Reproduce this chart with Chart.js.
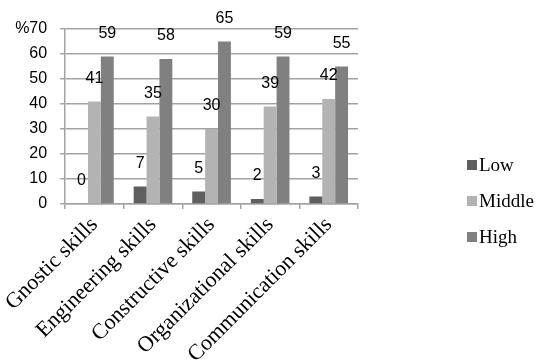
<!DOCTYPE html>
<html>
<head>
<meta charset="utf-8">
<script src="https://cdn.jsdelivr.net/npm/chart.js@4"></script>
<style>
  html, body { margin: 0; padding: 0; background: #fff; }
  #wrap { position: relative; width: 536px; height: 363px; }
  canvas { position: absolute; left: 0; top: 0; }
  #legend { position: absolute; left: 467px; top: 154px; font-family: "Liberation Serif", "Times New Roman", serif; font-size: 19px; color: #000; }
  #legend div { display: flex; align-items: center; height: 22px; margin-bottom: 14px; }
  #legend span.box { display: inline-block; width: 10px; height: 10px; margin-right: 2px; }
</style>
</head>
<body>
<div id="wrap">
  <canvas id="c" width="536" height="363"></canvas>
  <div id="legend"></div>
</div>
<script>
// Skill categories and percentage of respondents per level
const categories = ["Gnostic skills", "Engineering skills", "Constructive skills", "Organizational skills", "Communication skills"];
const lowValues = [0, 7, 5, 2, 3];
const middleValues = [41, 35, 30, 39, 42];
const highValues = [59, 58, 65, 59, 55];
const seriesNames = ["Low", "Middle", "High"];
const seriesColors = ["#5f5f5f", "#b3b3b3", "#808080"];
const yTicks = [0, 10, 20, 30, 40, 50, 60, 70];

const gridColor = "#a3a3a3";

// Value labels drawn above each bar
const valueLabels = {
  id: "valueLabels",
  afterDatasetsDraw(chart) {
    const ctx = chart.ctx;
    ctx.save();
    ctx.font = "16px 'Liberation Sans', Arial, sans-serif";
    ctx.fillStyle = "#000";
    ctx.textAlign = "center";
    ctx.textBaseline = "middle";
    chart.data.datasets.forEach((ds, i) => {
      chart.getDatasetMeta(i).data.forEach((bar, j) => {
        ctx.fillText(String(ds.data[j]), bar.x, bar.y - 23);
      });
    });
    ctx.restore();
  }
};

const legendEl = document.getElementById("legend");
seriesNames.forEach((name, i) => {
  const row = document.createElement("div");
  const box = document.createElement("span");
  box.className = "box";
  box.style.background = seriesColors[i];
  row.appendChild(box);
  row.appendChild(document.createTextNode(name));
  legendEl.appendChild(row);
});

new Chart(document.getElementById("c"), {
  type: "bar",
  data: {
    labels: categories,
    datasets: [
      { label: seriesNames[0], data: lowValues, backgroundColor: seriesColors[0] },
      { label: seriesNames[1], data: middleValues, backgroundColor: seriesColors[1] },
      { label: seriesNames[2], data: highValues, backgroundColor: seriesColors[2] }
    ]
  },
  options: {
    responsive: false,
    animation: false,
    layout: { padding: { left: 0, right: 178, top: 29, bottom: 0 } },
    plugins: { legend: { display: false }, tooltip: { enabled: false } },
    datasets: { bar: { categoryPercentage: 0.66, barPercentage: 1.0 } },
    scales: {
      x: {
        afterFit: s => { s.height = 159; },
        grid: { display: true, drawOnChartArea: false, drawTicks: true, tickLength: 5, color: gridColor, lineWidth: 1.5, offset: true },
        border: { color: gridColor, width: 1.5 },
        ticks: {
          color: "#000",
          font: { family: "'Liberation Serif', 'Times New Roman', serif", size: 22 },
          minRotation: 45, maxRotation: 45, padding: 3, autoSkip: false
        }
      },
      y: {
        min: 0, max: 70,
        afterFit: s => { s.width = 63; },
        afterBuildTicks: s => { s.ticks = yTicks.map(v => ({ value: v })); },
        grid: { color: gridColor, lineWidth: 1.5, tickLength: 5 },
        border: { color: gridColor, width: 1.5 },
        ticks: {
          color: "#000",
          padding: 13,
          font: { family: "'Liberation Sans', Arial, sans-serif", size: 16 },
          callback: v => (v === 70 ? "%" + v : String(v))
        }
      }
    }
  },
  plugins: [valueLabels]
});
</script>
</body>
</html>
